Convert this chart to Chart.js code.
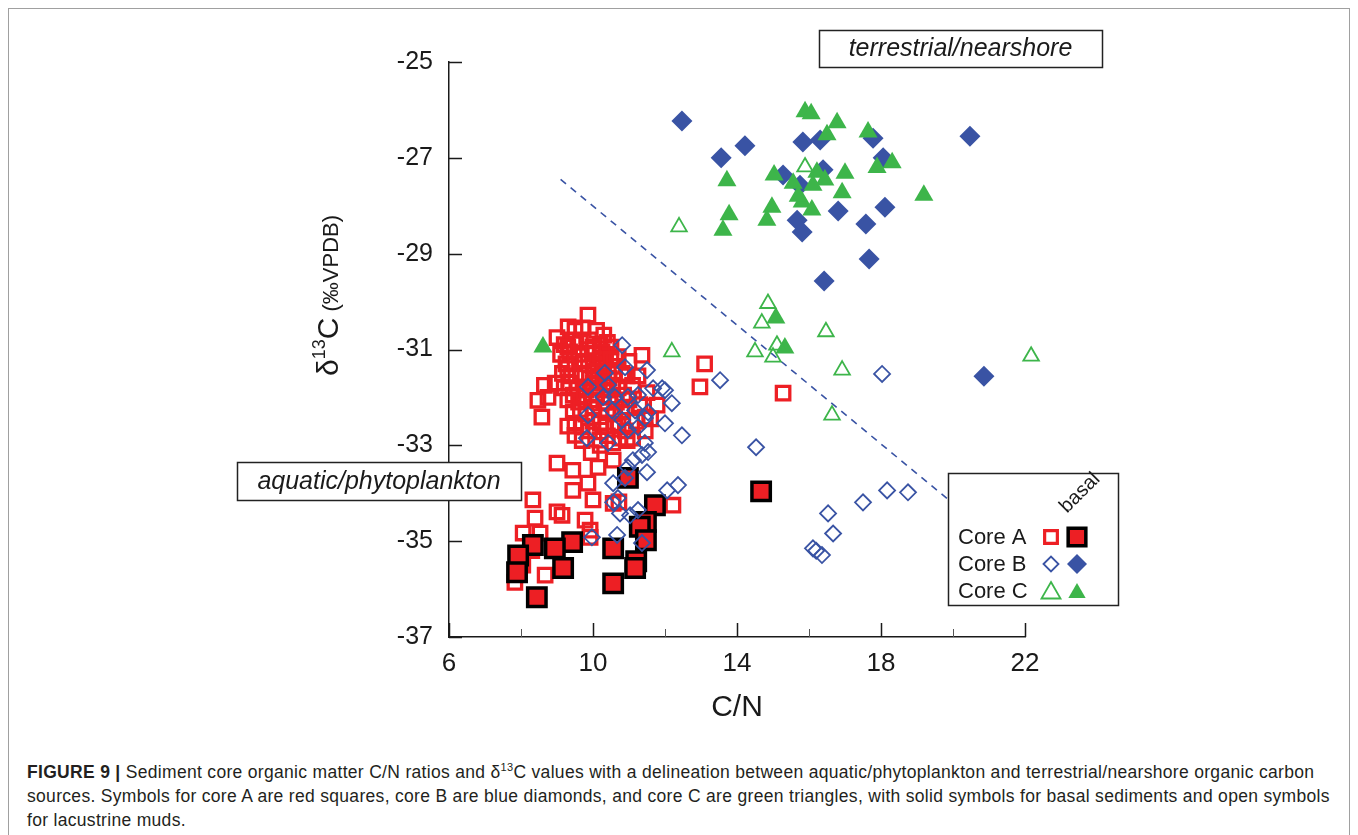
<!DOCTYPE html>
<html>
<head>
<meta charset="utf-8">
<title>C/N vs d13C</title>
<script src="https://cdn.jsdelivr.net/npm/chart.js@4.4.1/dist/chart.umd.min.js"></script>
<style>
  body { margin: 0; background: #fff; width: 1358px; height: 835px; overflow: hidden; position: relative;
         font-family: "Liberation Sans", Arial, sans-serif; }
  #frame { position: absolute; left: 8px; top: 8px; width: 1342px; height: 860px; border: 1.5px solid #a0a0a0; box-sizing: border-box; }
  #plot { position: absolute; left: 0; top: 0; }
  .caption { position: absolute; left: 27px; top: 760px; font-size: 17.5px; letter-spacing: 0.31px; line-height: 24px;
             color: #231f20; white-space: nowrap; }
  .caption sup { font-size: 11px; line-height: 0; vertical-align: 7px; }
</style>
</head>
<body>
<div id="frame"></div>
<canvas id="plot" width="1358" height="745"></canvas>
<div class="caption">
  <b>FIGURE 9 |</b> Sediment core organic matter C/N ratios and &delta;<sup>13</sup>C values with a delineation between aquatic/phytoplankton and terrestrial/nearshore organic carbon<br>
  sources. Symbols for core A are red squares, core B are blue diamonds, and core C are green triangles, with solid symbols for basal sediments and open symbols<br>
  for lacustrine muds.
</div>
<script>
// [C/N, d13C] pairs per core and sediment type
const coreALacustrine = [
  [9.86,-30.28],[9.31,-30.53],[9.0,-30.75],[9.5,-30.6],[9.7,-30.55],[10.1,-30.6],[10.3,-30.7],
  [9.2,-30.9],[9.45,-30.8],[9.65,-30.85],[9.9,-30.8],[10.2,-30.9],[10.5,-30.95],
  [9.1,-31.1],[9.35,-31.05],[9.6,-31.1],[9.85,-31.0],[10.05,-31.1],[10.35,-31.1],[10.7,-31.15],
  [9.25,-31.3],[9.5,-31.3],[9.75,-31.25],[10.0,-31.35],[10.25,-31.3],[10.55,-31.35],[11.0,-31.25],[11.36,-31.12],
  [9.15,-31.5],[9.4,-31.55],[9.65,-31.5],[9.9,-31.6],[10.15,-31.55],[10.45,-31.6],[10.8,-31.5],
  [8.65,-31.75],[8.95,-31.7],[9.2,-31.8],[9.55,-31.8],[9.8,-31.85],[10.1,-31.8],[10.4,-31.85],[10.7,-31.8],[11.1,-31.75],
  [8.47,-32.06],[8.75,-32.0],[9.3,-32.05],[9.6,-32.1],[9.95,-32.05],[10.3,-32.1],[10.65,-32.1],[11.0,-32.05],[11.78,-32.16],
  [8.58,-32.41],[9.45,-32.3],[9.8,-32.35],[10.2,-32.4],[10.6,-32.35],[11.45,-32.41],
  [9.5,-32.54],[9.5,-32.79],[10.2,-32.54],[10.6,-32.6],[10.9,-32.7],[10.4,-32.8],[10.75,-32.85],[10.95,-32.9],
  [10.4,-30.85],[9.3,-30.95],[10.0,-30.95],[10.25,-31.05],[10.2,-31.2],[10.5,-31.2],[9.3,-31.4],
  [10.05,-31.45],[10.3,-31.45],[10.6,-31.5],[9.35,-31.7],[10.0,-31.7],
  [10.3,-31.7],[10.55,-31.75],[9.45,-31.95],[9.75,-32.0],[10.1,-31.95],[10.45,-32.0],[10.85,-31.95],[9.65,-32.25],
  [10.0,-32.2],[10.4,-32.25],[10.8,-32.3],[9.7,-32.6],[10.0,-32.5],[10.35,-32.6],[10.7,-32.55],
  [10.9,-32.2],[11.2,-32.5],[11.1,-32.85],[11.3,-32.15],[10.55,-32.95],[9.9,-32.7],[9.3,-32.6],[9.7,-32.9],
  [11.5,-31.9],[11.25,-31.55],[10.95,-31.55],[11.45,-32.7],[10.2,-33.0],[9.95,-33.15],[11.6,-32.45],
  [13.1,-31.3],[12.97,-31.78],[15.28,-31.91],
  [9.0,-33.37],[9.44,-33.52],[9.86,-33.79],[9.44,-33.94],[10.0,-34.14],[8.33,-34.14],[9.0,-34.39],[9.14,-34.46],
  [8.39,-34.52],[9.78,-34.56],[8.06,-34.83],[8.53,-34.83],[9.92,-34.77],[7.83,-35.86],[8.67,-35.71],
  [10.14,-33.46],[10.19,-32.89],[10.56,-33.31],[10.56,-34.21],[12.22,-34.25],[9.92,-34.92],[10.72,-34.18],
  [8.05,-35.5],[8.3,-35.2]
];
const coreABasal = [
  [10.97,-33.68],[11.72,-34.25],[11.47,-34.6],[11.3,-34.7],[11.47,-34.98],[10.56,-35.15],[11.2,-35.42],
  [11.17,-35.56],[10.56,-35.88],[9.42,-35.02],[8.94,-35.15],[8.33,-35.08],[7.92,-35.3],[7.89,-35.65],
  [9.17,-35.56],[8.44,-36.17],[14.67,-33.96]
];
const coreBLacustrine = [
  [10.81,-30.91],[10.89,-31.37],[11.5,-31.43],[10.33,-31.49],[10.42,-31.74],[9.86,-31.78],[11.92,-31.81],
  [12.0,-31.85],[11.67,-31.81],[12.19,-32.12],[11.25,-31.95],[10.97,-31.99],[10.61,-31.99],[10.28,-31.99],
  [10.53,-32.27],[11.17,-32.27],[11.53,-32.31],[12.0,-32.54],[11.44,-32.43],[10.81,-32.47],[11.25,-32.62],
  [10.97,-32.68],[12.47,-32.79],[11.44,-32.95],[10.42,-32.95],[9.86,-32.37],[9.83,-32.85],[11.53,-33.14],
  [11.36,-33.2],[11.11,-33.31],[10.97,-33.46],[11.5,-33.56],[10.89,-33.68],[10.56,-33.79],[12.06,-33.94],
  [12.36,-33.83],[10.69,-34.1],[10.56,-34.19],[10.75,-34.42],[11.03,-34.46],[11.25,-34.35],[9.97,-34.92],
  [10.67,-34.87],[11.36,-35.04],[13.53,-31.64],
  [18.03,-31.51],[14.53,-33.04],[16.53,-34.42],[16.67,-34.84],[16.11,-35.15],[16.36,-35.29],[16.2,-35.2],
  [17.5,-34.19],[18.17,-33.94],[18.75,-33.98]
];
const coreBBasal = [
  [12.47,-26.23],[14.22,-26.75],[13.56,-27.0],[15.83,-26.67],[16.31,-26.63],[17.78,-26.59],[20.47,-26.55],
  [15.28,-27.36],[16.39,-27.25],[15.75,-27.57],[18.06,-27.0],[16.81,-28.11],[18.11,-28.03],[15.67,-28.3],
  [15.81,-28.55],[17.58,-28.38],[17.67,-29.11],[16.42,-29.57],[20.86,-31.56]
];
const coreCLacustrine = [
  [15.89,-27.19],[12.39,-28.44],[14.86,-30.04],[14.69,-30.45],[16.47,-30.63],[14.5,-31.05],[15.0,-31.16],
  [15.11,-30.91],[16.92,-31.43],[22.17,-31.14],[16.64,-32.37],[12.19,-31.05]
];
const coreCBasal = [
  [15.89,-26.04],[16.06,-26.08],[16.78,-26.27],[16.5,-26.52],[17.64,-26.46],[18.31,-27.1],[17.89,-27.2],
  [19.19,-27.78],[13.72,-27.48],[15.03,-27.36],[15.56,-27.53],[16.22,-27.3],[16.44,-27.46],[17.0,-27.32],
  [16.11,-27.57],[16.92,-27.73],[15.81,-27.92],[16.08,-28.09],[14.97,-28.03],[14.83,-28.3],[13.78,-28.19],
  [13.61,-28.51],[15.7,-27.8],[8.61,-30.95],[15.08,-30.34],[15.33,-30.97]
];
// aquatic / terrestrial delineation
const dividerLine = [[9.1,-27.45],[19.9,-34.15]];

const cnTicks = [6, 10, 14, 18, 22];
const cnMinorTicks = [8, 12, 16, 20];
const d13cTicks = [-25, -27, -29, -31, -33, -35, -37];

const RED = '#ed1f24', BLUE = '#3953a4', GREEN = '#3db54a';
const FONT = '"Liberation Sans", Arial, sans-serif';

const pts = arr => arr.map(p => ({ x: p[0], y: p[1] }));

const decorations = {
  id: 'decorations',
  beforeDatasetsDraw(chart) {
    const { ctx, scales: { x, y } } = chart;
    ctx.save();
    ctx.strokeStyle = '#1a1a1a';
    ctx.lineWidth = 1.5;
    ctx.beginPath();
    d13cTicks.forEach(v => {
      const py = Math.round(y.getPixelForValue(v)) + 0.5;
      ctx.moveTo(x.left, py); ctx.lineTo(x.left + 13, py);
    });
    cnTicks.forEach(v => {
      const px = Math.round(x.getPixelForValue(v)) + 0.5;
      ctx.moveTo(px, y.bottom); ctx.lineTo(px, y.bottom - 14);
    });
    ctx.stroke();
    ctx.lineWidth = 1;
    ctx.strokeStyle = '#555';
    ctx.beginPath();
    cnMinorTicks.forEach(v => {
      const px = Math.round(x.getPixelForValue(v)) + 0.5;
      ctx.moveTo(px, y.bottom); ctx.lineTo(px, y.bottom - 8);
    });
    ctx.stroke();
    ctx.restore();
  },
  afterDraw(chart) {
    const { ctx } = chart;
    const H = Chart.helpers;
    ctx.save();

    // y axis title: δ13C (‰VPDB)
    ctx.translate(327, 376);
    ctx.rotate(-Math.PI / 2);
    ctx.fillStyle = '#1a1a1a';
    ctx.textBaseline = 'alphabetic';
    let cx = 0;
    const part = (txt, size, dy) => {
      ctx.font = size + 'px ' + FONT;
      ctx.fillText(txt, cx, dy);
      cx += ctx.measureText(txt).width;
    };
    part('δ', 30, 11);
    part('13', 18, -2);
    part('C', 30, 11);
    part(' (‰VPDB)', 22, 11);
    ctx.restore();

    // legend
    ctx.save();
    ctx.fillStyle = '#fff';
    ctx.strokeStyle = '#222';
    ctx.lineWidth = 1.5;
    ctx.fillRect(948, 473, 170, 132);
    ctx.strokeRect(948.5, 473.5, 170, 132);
    ctx.fillStyle = '#1a1a1a';
    ctx.font = '22px ' + FONT;
    ctx.textBaseline = 'middle';
    ctx.textAlign = 'left';
    const rows = [
      { label: 'Core A', y: 537, open: { pointStyle: 'rect', radius: 9, borderWidth: 3.2 }, oc: RED,
        solid: { pointStyle: 'rect', radius: 12.5, borderWidth: 3.5 }, sf: RED, sb: '#000' },
      { label: 'Core B', y: 564, open: { pointStyle: 'rectRot', radius: 7.5, borderWidth: 1.8 }, oc: BLUE,
        solid: { pointStyle: 'rectRot', radius: 10, borderWidth: 0 }, sf: BLUE, sb: BLUE },
      { label: 'Core C', y: 591, open: { pointStyle: 'triangle', radius: 11, borderWidth: 1.8 }, oc: GREEN,
        solid: { pointStyle: 'triangle', radius: 10, borderWidth: 0 }, sf: GREEN, sb: GREEN }
    ];
    rows.forEach(r => {
      ctx.fillStyle = '#1a1a1a';
      ctx.fillText(r.label, 958, r.y + 1);
      ctx.fillStyle = 'rgba(0,0,0,0)';
      ctx.strokeStyle = r.oc;
      ctx.lineWidth = r.open.borderWidth;
      H.drawPoint(ctx, r.open, 1051, r.y + (r.open.pointStyle === 'triangle' ? 2 : 0));
      ctx.fillStyle = r.sf;
      ctx.strokeStyle = r.sb;
      ctx.lineWidth = r.solid.borderWidth;
      H.drawPoint(ctx, r.solid, 1077, r.y + (r.solid.pointStyle === 'triangle' ? 2 : 0));
    });
    ctx.save();
    ctx.translate(1080, 493);
    ctx.rotate(-Math.PI / 4);
    ctx.fillStyle = '#1a1a1a';
    ctx.font = '20px ' + FONT;
    ctx.textAlign = 'center';
    ctx.fillText('basal', 0, 0);
    ctx.restore();

    // region labels
    const tag = (txt, x0, y0, w, h) => {
      ctx.fillStyle = '#fff';
      ctx.fillRect(x0, y0, w, h);
      ctx.strokeStyle = '#222';
      ctx.lineWidth = 1.5;
      ctx.strokeRect(x0 + 0.5, y0 + 0.5, w, h);
      ctx.fillStyle = '#1a1a1a';
      ctx.font = 'italic 25px ' + FONT;
      ctx.textAlign = 'center';
      ctx.textBaseline = 'middle';
      ctx.fillText(txt, x0 + w / 2, y0 + h / 2 + 1);
    };
    tag('terrestrial/nearshore', 819, 30, 283, 37);
    tag('aquatic/phytoplankton', 237, 462, 284, 38);
    ctx.restore();
  }
};

new Chart('plot', {
  type: 'scatter',
  data: {
    datasets: [{
      label: 'Core C lacustrine',
      data: pts(coreCLacustrine),
      pointStyle: 'triangle', pointRadius: 9,
      pointBorderColor: GREEN, pointBackgroundColor: 'rgba(0,0,0,0)', pointBorderWidth: 1.8
    }, {
      label: 'Core C basal',
      data: pts(coreCBasal),
      pointStyle: 'triangle', pointRadius: 11,
      pointBorderColor: GREEN, pointBackgroundColor: GREEN, pointBorderWidth: 0
    }, {
      label: 'Core B basal',
      data: pts(coreBBasal),
      pointStyle: 'rectRot', pointRadius: 10.5,
      pointBorderColor: BLUE, pointBackgroundColor: BLUE, pointBorderWidth: 0
    }, {
      label: 'Core B lacustrine',
      data: pts(coreBLacustrine),
      pointStyle: 'rectRot', pointRadius: 8,
      pointBorderColor: BLUE, pointBackgroundColor: 'rgba(0,0,0,0)', pointBorderWidth: 1.8
    }, {
      label: 'Core A basal',
      data: pts(coreABasal),
      pointStyle: 'rect', pointRadius: 13,
      pointBorderColor: '#000', pointBackgroundColor: RED, pointBorderWidth: 3.5
    }, {
      label: 'Core A lacustrine',
      data: pts(coreALacustrine),
      pointStyle: 'rect', pointRadius: 9.5,
      pointBorderColor: RED, pointBackgroundColor: 'rgba(0,0,0,0)', pointBorderWidth: 3.3
    }, {
      label: 'Delineation',
      data: pts(dividerLine),
      showLine: true, pointRadius: 0,
      borderColor: BLUE, borderWidth: 1.6, borderDash: [7, 6]
    }]
  },
  options: {
    responsive: false,
    animation: false,
    events: [],
    datasets: { scatter: { clip: false } },
    layout: { padding: { top: 62, right: 333, left: 0, bottom: 0 } },
    plugins: { legend: { display: false }, tooltip: { enabled: false } },
    scales: {
      x: {
        type: 'linear', min: 6, max: 22,
        afterFit(scale) { scale.height = 108; },
        afterBuildTicks(scale) { scale.ticks = cnTicks.map(v => ({ value: v })); },
        grid: { display: true, drawOnChartArea: false, drawTicks: false },
        border: { display: true, color: '#1a1a1a', width: 1.5 },
        ticks: { color: '#1a1a1a', font: { family: FONT, size: 26 }, padding: 11, maxRotation: 0 },
        title: { display: true, text: 'C/N', color: '#1a1a1a', font: { family: FONT, size: 30 }, padding: { bottom: 19 } }
      },
      y: {
        type: 'linear', min: -37, max: -25,
        afterFit(scale) { scale.width = 449; },
        afterBuildTicks(scale) { scale.ticks = d13cTicks.map(v => ({ value: v })); },
        grid: { display: true, drawOnChartArea: false, drawTicks: false },
        border: { display: true, color: '#1a1a1a', width: 1.5 },
        ticks: { color: '#1a1a1a', font: { family: FONT, size: 25 }, padding: 16 }
      }
    }
  },
  plugins: [decorations]
});
</script>
</body>
</html>
